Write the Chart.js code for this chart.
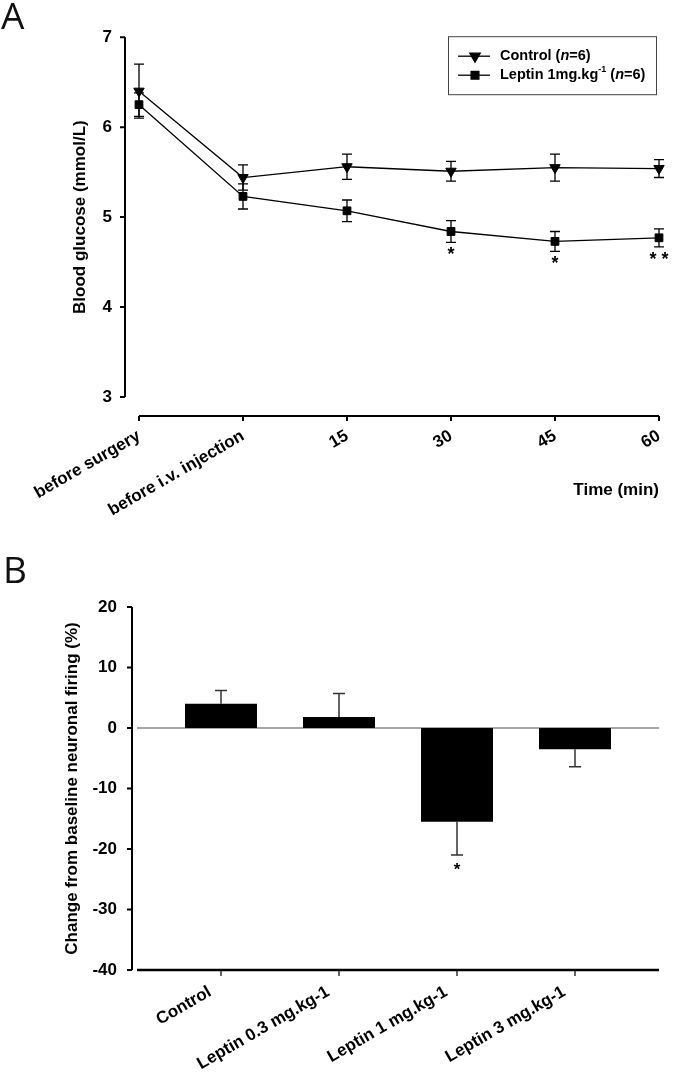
<!DOCTYPE html>
<html>
<head>
<meta charset="utf-8">
<script src="https://cdn.jsdelivr.net/npm/chart.js@4.4.1/dist/chart.umd.min.js"></script>
<style>
  body { margin: 0; background: #fff; }
  #wrap { position: relative; width: 673px; height: 1076px; overflow: hidden; }
  canvas { position: absolute; left: 0; }
  .tag { position: absolute; font-family: "Open Sans", sans-serif; font-size: 37px; line-height: 1; color: #111; }
</style>
</head>
<body>
<div id="wrap">
  <canvas id="glucoseChart" width="673" height="540" style="top:0"></canvas>
  <canvas id="firingChart" width="673" height="536" style="top:540px"></canvas>
  <div class="tag" style="left:1px; top:-4px">A</div>
  <div class="tag" style="left:3px; top:550px">B</div>
</div>
<script>
// Panel A: Blutzucker über die Zeit
const timeLabels = ["before surgery", "before i.v. injection", "15", "30", "45", "60"];
const controlMean = [6.40, 5.44, 5.56, 5.51, 5.55, 5.54];
const controlSem = [0.30, 0.14, 0.14, 0.11, 0.15, 0.10];
const leptinMean = [6.25, 5.23, 5.07, 4.84, 4.73, 4.77];
const leptinSem = [0.13, 0.14, 0.12, 0.12, 0.11, 0.10];
const leptinSig = ["", "", "", "*", "*", "**"];
const glucoseTicks = [3, 4, 5, 6, 7];

// Panel B: Änderung der neuronalen Aktivität
const groupLabels = ["Control", "Leptin 0.3 mg.kg-1", "Leptin 1 mg.kg-1", "Leptin 3 mg.kg-1"];
const firingChange = [4.0, 1.8, -15.5, -3.5];
const firingSem = [2.2, 3.9, 5.5, 2.9];
const firingSig = ["", "", "*", ""];
const firingTicks = [20, 10, 0, -10, -20, -30, -40];

const FONT = "'Liberation Sans', Arial, sans-serif";
const tickFont = { family: FONT, size: 17, weight: "bold" };

function drawMarker(ctx, style, x, y, r) {
    ctx.beginPath();
    if (style === "triangle") {
        // Dreieck nach unten
        ctx.moveTo(x - r * 0.866, y - r * 0.5);
        ctx.lineTo(x + r * 0.866, y - r * 0.5);
        ctx.lineTo(x, y + r);
    } else {
        const s = r * Math.SQRT1_2;
        ctx.rect(x - s, y - s, 2 * s, 2 * s);
    }
    ctx.closePath();
    ctx.fill();
    ctx.stroke();
}

function drawRich(ctx, x, y, parts) {
    parts.forEach(p => {
        ctx.font = p.font;
        ctx.fillText(p.text, x, y + (p.dy || 0));
        x += ctx.measureText(p.text).width;
    });
}

// Fehlerbalken, Achsen, Legende für A
const glucoseDecor = {
    id: "glucoseDecor",
    beforeDatasetsDraw(chart) {
        const ctx = chart.ctx;
        const xs = chart.scales.x, ys = chart.scales.y;
        ctx.save();
        ctx.strokeStyle = "#000";
        ctx.lineWidth = 1.3;
        chart.data.datasets.forEach(ds => {
            ds.data.forEach((v, i) => {
                const x = xs.getPixelForValue(i);
                const top = ys.getPixelForValue(v + ds.sem[i]);
                const bot = ys.getPixelForValue(v - ds.sem[i]);
                ctx.beginPath();
                ctx.moveTo(x, top); ctx.lineTo(x, bot);
                ctx.moveTo(x - 5, top); ctx.lineTo(x + 5, top);
                ctx.moveTo(x - 5, bot); ctx.lineTo(x + 5, bot);
                ctx.stroke();
            });
        });
        ctx.restore();
    },
    afterDraw(chart) {
        const ctx = chart.ctx;
        const xs = chart.scales.x, ys = chart.scales.y;
        const area = chart.chartArea;
        ctx.save();
        ctx.strokeStyle = "#000";
        ctx.fillStyle = "#000";

        // y-Achse (abgesetzt)
        const ax = area.left - 14;
        ctx.lineWidth = 2;
        ctx.beginPath();
        ctx.moveTo(ax, ys.getPixelForValue(glucoseTicks[glucoseTicks.length - 1]));
        ctx.lineTo(ax, ys.getPixelForValue(glucoseTicks[0]));
        glucoseTicks.forEach(t => {
            const y = ys.getPixelForValue(t);
            ctx.moveTo(ax - 5, y); ctx.lineTo(ax, y);
        });
        ctx.stroke();

        // x-Achse (abgesetzt)
        const ay = area.bottom + 19;
        ctx.beginPath();
        ctx.moveTo(xs.getPixelForValue(0), ay);
        ctx.lineTo(xs.getPixelForValue(timeLabels.length - 1), ay);
        timeLabels.forEach((l, i) => {
            const x = xs.getPixelForValue(i);
            ctx.moveTo(x, ay); ctx.lineTo(x, ay + 5);
        });
        ctx.stroke();

        // Signifikanz
        ctx.font = "bold 18px " + FONT;
        ctx.textAlign = "center";
        ctx.textBaseline = "alphabetic";
        leptinSig.forEach((s, i) => {
            if (!s) return;
            const x = xs.getPixelForValue(i);
            const y = ys.getPixelForValue(leptinMean[i] - leptinSem[i]) + 18;
            ctx.fillText(s.split("").join(" "), x, y);
        });

        // Achsentitel
        ctx.font = "bold 17px " + FONT;
        ctx.textAlign = "right";
        ctx.textBaseline = "middle";
        ctx.fillText("Time (min)", area.right, area.bottom + 93);

        // Legende
        const bx = area.right - 211, by = area.top - 1;
        ctx.lineWidth = 1;
        ctx.strokeStyle = "#444";
        ctx.strokeRect(bx + 0.5, by + 0.5, 208, 58);
        ctx.strokeStyle = "#000";
        ctx.lineWidth = 1.3;
        const rows = [
            { style: "triangle", r: 6, y: by + 20, parts: [
                { text: "Control (", font: "bold 14.5px " + FONT },
                { text: "n", font: "italic bold 14.5px " + FONT },
                { text: "=6)", font: "bold 14.5px " + FONT }] },
            { style: "rect", r: 5.5, y: by + 39, parts: [
                { text: "Leptin 1mg.kg", font: "bold 14.5px " + FONT },
                { text: "-1", font: "bold 9px " + FONT, dy: -6 },
                { text: " (", font: "bold 14.5px " + FONT },
                { text: "n", font: "italic bold 14.5px " + FONT },
                { text: "=6)", font: "bold 14.5px " + FONT }] }
        ];
        ctx.textAlign = "left";
        ctx.textBaseline = "middle";
        rows.forEach(r => {
            ctx.beginPath();
            ctx.moveTo(bx + 10, r.y); ctx.lineTo(bx + 42, r.y);
            ctx.stroke();
            drawMarker(ctx, r.style, bx + 27, r.y, r.r);
            drawRich(ctx, bx + 52, r.y, r.parts);
        });
        ctx.restore();
    }
};

new Chart(document.getElementById("glucoseChart"), {
    type: "line",
    data: {
        labels: timeLabels,
        datasets: [
            {
                label: "Control",
                data: controlMean,
                sem: controlSem,
                borderColor: "#000",
                borderWidth: 1.3,
                pointStyle: "triangle",
                pointRotation: 180,
                pointRadius: 6,
                pointBackgroundColor: "#000",
                pointBorderColor: "#000",
                pointBorderWidth: 1,
                tension: 0,
                fill: false
            },
            {
                label: "Leptin 1mg.kg-1",
                data: leptinMean,
                sem: leptinSem,
                borderColor: "#000",
                borderWidth: 1.3,
                pointStyle: "rect",
                pointRadius: 5.5,
                pointBackgroundColor: "#000",
                pointBorderColor: "#000",
                pointBorderWidth: 1,
                tension: 0,
                fill: false
            }
        ]
    },
    options: {
        responsive: false,
        animation: false,
        layout: { padding: { top: 35, right: 14, left: 0, bottom: 0 } },
        plugins: { legend: { display: false }, tooltip: { enabled: false } },
        scales: {
            x: {
                offset: false,
                grid: { display: false, drawTicks: false },
                border: { display: false },
                ticks: { autoSkip: false, minRotation: 30, maxRotation: 30, padding: 29, color: "#000", font: tickFont },
                afterFit: s => { s.height = 540 - 397; s.paddingLeft = 0; s.paddingRight = 0; }
            },
            y: {
                min: 3,
                max: 7,
                grid: { display: false, drawTicks: false },
                border: { display: false },
                afterBuildTicks: s => { s.ticks = glucoseTicks.map(v => ({ value: v })); },
                ticks: { padding: 27, color: "#000", font: tickFont },
                title: { display: true, text: "Blood glucose (mmol/L)", color: "#000", font: tickFont, padding: { top: 70, bottom: 0 } },
                afterFit: s => { s.width = 139; }
            }
        }
    },
    plugins: [glucoseDecor]
});

// Fehlerbalken, Achsen für B
const firingDecor = {
    id: "firingDecor",
    beforeDatasetsDraw(chart) {
        const ctx = chart.ctx;
        const ys = chart.scales.y;
        const area = chart.chartArea;
        ctx.save();
        ctx.strokeStyle = "#888";
        ctx.lineWidth = 1.5;
        const y0 = ys.getPixelForValue(0);
        ctx.beginPath();
        ctx.moveTo(area.left - 25, y0); ctx.lineTo(area.right + 25, y0);
        ctx.stroke();
        ctx.restore();
    },
    afterDatasetsDraw(chart) {
        const ctx = chart.ctx;
        const xs = chart.scales.x, ys = chart.scales.y;
        ctx.save();
        ctx.strokeStyle = "#333";
        ctx.lineWidth = 1.5;
        firingChange.forEach((v, i) => {
            const x = xs.getPixelForValue(i);
            const end = v >= 0 ? v + firingSem[i] : v - firingSem[i];
            const y1 = ys.getPixelForValue(v), y2 = ys.getPixelForValue(end);
            ctx.beginPath();
            ctx.moveTo(x, y1); ctx.lineTo(x, y2);
            ctx.moveTo(x - 6, y2); ctx.lineTo(x + 6, y2);
            ctx.stroke();
        });
        ctx.fillStyle = "#000";
        ctx.font = "bold 17px " + FONT;
        ctx.textAlign = "center";
        ctx.textBaseline = "alphabetic";
        firingSig.forEach((s, i) => {
            if (!s) return;
            const v = firingChange[i] - firingSem[i];
            ctx.fillText(s, xs.getPixelForValue(i), ys.getPixelForValue(v) + 20);
        });
        ctx.restore();
    },
    afterDraw(chart) {
        const ctx = chart.ctx;
        const xs = chart.scales.x, ys = chart.scales.y;
        const area = chart.chartArea;
        ctx.save();
        ctx.strokeStyle = "#000";
        ctx.lineWidth = 2;
        const ax = area.left - 30;
        ctx.beginPath();
        ctx.moveTo(ax, ys.getPixelForValue(firingTicks[0]));
        ctx.lineTo(ax, ys.getPixelForValue(firingTicks[firingTicks.length - 1]));
        firingTicks.forEach(t => {
            const y = ys.getPixelForValue(t);
            ctx.moveTo(ax - 5, y); ctx.lineTo(ax, y);
        });
        ctx.stroke();

        const ay = ys.getPixelForValue(firingTicks[firingTicks.length - 1]);
        ctx.lineWidth = 2.5;
        ctx.beginPath();
        ctx.moveTo(area.left - 25, ay); ctx.lineTo(area.right + 25, ay);
        ctx.stroke();
        ctx.lineWidth = 1.2;
        ctx.beginPath();
        groupLabels.forEach((l, i) => {
            const x = xs.getPixelForValue(i);
            ctx.moveTo(x, ay); ctx.lineTo(x, ay + 6);
        });
        ctx.stroke();
        ctx.restore();
    }
};

new Chart(document.getElementById("firingChart"), {
    type: "bar",
    data: {
        labels: groupLabels,
        datasets: [{
            label: "Change",
            data: firingChange,
            backgroundColor: "#000",
            borderWidth: 0,
            barPercentage: 0.61,
            categoryPercentage: 1
        }]
    },
    options: {
        responsive: false,
        animation: false,
        layout: { padding: { top: 67, right: 39, left: 0, bottom: 0 } },
        plugins: { legend: { display: false }, tooltip: { enabled: false } },
        scales: {
            x: {
                offset: true,
                grid: { display: false, drawTicks: false },
                border: { display: false },
                ticks: { autoSkip: false, minRotation: 30, maxRotation: 30, padding: 12, labelOffset: -11, color: "#000", font: tickFont },
                afterFit: s => { s.height = 536 - 430; s.paddingLeft = 0; s.paddingRight = 0; }
            },
            y: {
                min: -40,
                max: 20,
                grid: { display: false, drawTicks: false },
                border: { display: false },
                afterBuildTicks: s => { s.ticks = firingTicks.map(v => ({ value: v })); },
                ticks: { padding: 45, color: "#000", font: tickFont },
                title: { display: true, text: "Change from baseline neuronal firing (%)", color: "#000", font: tickFont, padding: { top: 62, bottom: 0 } },
                afterFit: s => { s.width = 162; }
            }
        }
    },
    plugins: [firingDecor]
});
</script>
</body>
</html>
